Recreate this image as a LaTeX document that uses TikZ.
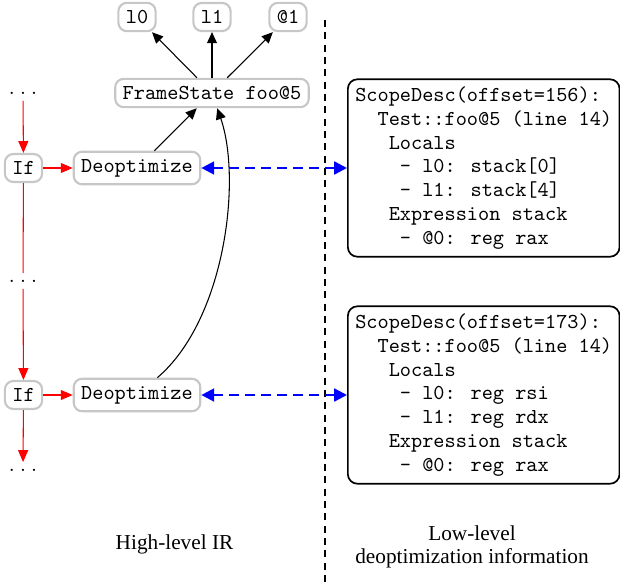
\documentclass[tikz,border=0pt]{standalone}
\usepackage{fontspec}
\newfontfamily\timesfont{Liberation Serif}
\usetikzlibrary{arrows.meta}
\newcommand{\mydots}{.\hspace{2.45pt}.\hspace{2.45pt}.}
\begin{document}
\begin{tikzpicture}[x=0.4702pt,y=-0.4702pt,
  ir/.style={draw=black!22, line width=1pt, rounded corners=4pt, font=\ttfamily, inner sep=3.5pt},
  dotsn/.style={inner sep=3pt},
  farrow/.style={-{Triangle[length=5.2pt,width=4.7pt]}, line width=0.5pt},
  redln/.style={red, line width=0.5pt},
  redtip/.style={-{Triangle[length=5.6pt,width=4.7pt]}},
  blu/.style={blue, line width=1.1pt, dash pattern=on 4.5pt off 3pt,
    {Triangle[length=6pt,width=6pt]}-{Triangle[length=6pt,width=6pt]}},
  sdbox/.style={draw, line width=0.8pt, rounded corners=4.5pt, align=left, inner sep=3.5pt,
    font=\fontsize{10}{11.2}\selectfont\ttfamily, anchor=west},
  lbl/.style={font=\timesfont, align=center}]

\useasboundingbox (0,0) rectangle (620,583);

% top nodes
\node[ir] (l0) at (137,17) {l0};
\node[ir] (l1) at (212,17) {l1};
\node[ir] (a1) at (288,17) {@1};
\node[ir] (fs) at (212,93) {FrameState foo@5};

\draw[farrow] (fs) -- (l0);
\draw[farrow] (fs) -- (l1);
\draw[farrow] (fs) -- (a1);

% left column
\node[dotsn] (d1) at (23,93) {\mydots};
\node[ir] (iT) at (23.5,168) {If};
\node[ir] (dT) at (137,168) {Deoptimize};
\node[dotsn] (d2) at (23,281) {\mydots};
\node[ir] (iB) at (23.5,395) {If};
\node[ir] (dB) at (137,395) {Deoptimize};
\node[dotsn] (d3) at (23,470) {\mydots};

\draw[redln,redtip] (d1) -- (iT);
\draw[redln,redtip] (iT) -- (dT);
\draw[redln] (iT) -- (d2);
\draw[redln,redtip] (d2) -- (iB);
\draw[redln,redtip] (iB) -- (dB);
\draw[redln,redtip] (iB) -- (d3);

\draw[farrow] (dT) -- (fs);
\draw[farrow] (dB) .. controls (225,320) and (242,180) .. (fs);

% separator
\coordinate (vt) at (325,20);
\coordinate (vb) at (325,583);
\draw[line width=0.5pt, dash pattern=on 3.3pt off 2.5pt] (vt) -- (vb);

% right boxes
\node[sdbox] (sd1) at (347,168) {ScopeDesc(offset=156):\\
~~Test::foo@5 (line 14)\\
~~~Locals\\
~~~~- l0: stack[0]\\
~~~~- l1: stack[4]\\
~~~Expression stack\\
~~~~- @0: reg rax};

\node[sdbox] (sd2) at (347,395) {ScopeDesc(offset=173):\\
~~Test::foo@5 (line 14)\\
~~~Locals\\
~~~~- l0: reg rsi\\
~~~~- l1: reg rdx\\
~~~Expression stack\\
~~~~- @0: reg rax};

\draw[blu] (dT) -- (sd1);
\draw[blu] (dB) -- (sd2);

% labels
\node[lbl] (hl) at (174.5,544) {High-level IR};
\node[lbl, font=\fontsize{10}{11}\selectfont\timesfont] (ll) at (472,547) {Low-level\\deoptimization information};
\end{tikzpicture}
\end{document}
